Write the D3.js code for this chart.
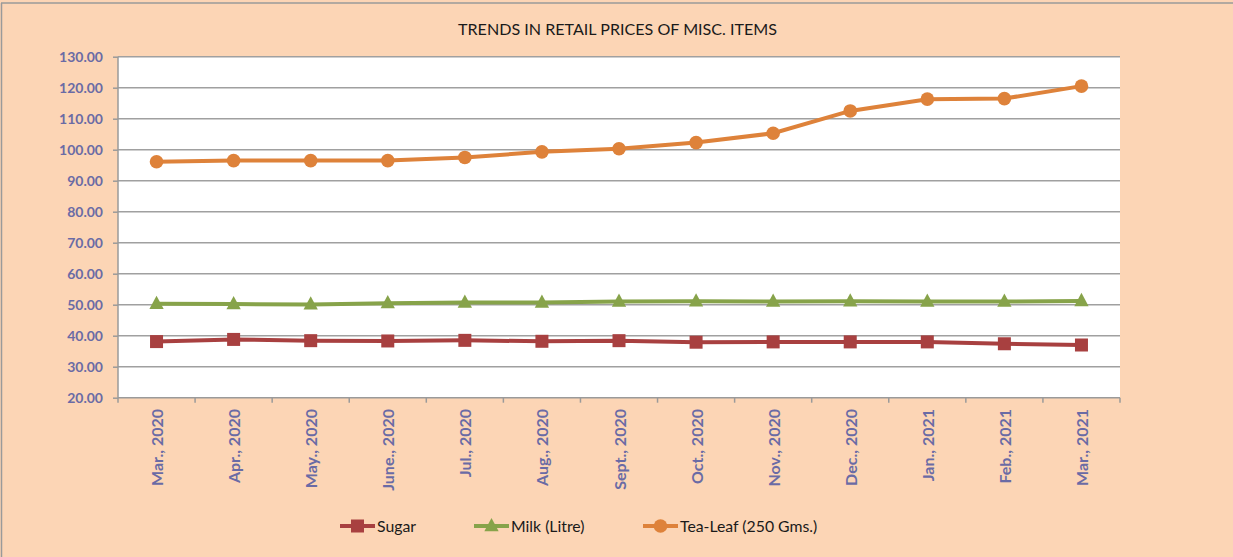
<!DOCTYPE html>
<html>
<head>
<meta charset="utf-8">
<script src="https://cdn.jsdelivr.net/npm/d3@7"></script>
<style>
  html, body { margin: 0; padding: 0; background: #fcd5b5; }
  svg { display: block; }
  text { font-family: Lato, "Open Sans", sans-serif; }
</style>
</head>
<body>
<svg id="chart" width="1233" height="557"></svg>
<script>
const categories = ["Mar., 2020", "Apr., 2020", "May., 2020", "June., 2020", "Jul., 2020", "Aug., 2020", "Sept., 2020", "Oct., 2020", "Nov., 2020", "Dec., 2020", "Jan., 2021", "Feb., 2021", "Mar., 2021"];
const sugar = [38.1, 38.8, 38.4, 38.3, 38.5, 38.2, 38.4, 37.9, 38.0, 38.0, 38.0, 37.4, 37.0];
const milk = [50.3, 50.2, 50.1, 50.5, 50.7, 50.7, 51.0, 51.1, 51.0, 51.1, 51.0, 51.0, 51.2];
const teaLeaf = [96.1, 96.5, 96.5, 96.5, 97.5, 99.3, 100.3, 102.3, 105.3, 112.5, 116.3, 116.5, 120.5];
const yTicks = [20, 30, 40, 50, 60, 70, 80, 90, 100, 110, 120, 130];
const title = "TRENDS IN RETAIL PRICES OF MISC. ITEMS";

const series = [
  { name: "Sugar", values: sugar, color: "#a84040", marker: "square" },
  { name: "Milk (Litre)", values: milk, color: "#87a34a", marker: "triangle" },
  { name: "Tea-Leaf (250 Gms.)", values: teaLeaf, color: "#de823a", marker: "circle" }
];

const svg = d3.select("#chart");
const W = 1233, H = 557;
const m = { left: 118, right: 1120, top: 56.7, bottom: 397.7 };

// background & border
svg.append("rect").attr("x", 0).attr("y", 0).attr("width", W).attr("height", H).attr("fill", "#fcd5b5");
svg.append("line").attr("x1", 1.5).attr("x2", 1.5).attr("y1", 3).attr("y2", H).attr("stroke", "#9a9a9a").attr("stroke-width", 1.5);
svg.append("line").attr("x1", 1).attr("x2", W).attr("y1", 3).attr("y2", 3).attr("stroke", "#9a9a9a").attr("stroke-width", 1.5);

const x = d3.scaleBand().domain(categories).range([m.left, m.right]).padding(0);
const y = d3.scaleLinear().domain([20, 130]).range([m.bottom, m.top]);

// plot area
svg.append("rect").attr("x", m.left).attr("y", m.top).attr("width", m.right - m.left).attr("height", m.bottom - m.top).attr("fill", "#ffffff");

// gridlines
svg.append("g").selectAll("line").data(yTicks.filter(d => d > 20)).join("line")
  .attr("x1", m.left).attr("x2", m.right)
  .attr("y1", d => y(d)).attr("y2", d => y(d))
  .attr("stroke", "#a0a0a0").attr("stroke-width", 1.5);

// y axis
const yAxis = svg.append("g").attr("transform", `translate(${m.left},0)`)
  .call(d3.axisLeft(y).tickValues(yTicks).tickFormat(d3.format(".2f")).tickSize(5).tickPadding(10));
yAxis.select(".domain").attr("stroke", "#9a9a9a").attr("stroke-width", 1.5).attr("d", `M0,${m.top}V${m.bottom}`);
yAxis.selectAll(".tick line").attr("stroke", "#9a9a9a").attr("stroke-width", 1.5);
yAxis.selectAll(".tick text").attr("fill", "#6a6ba5").attr("font-size", 14).attr("font-weight", "bold")
  .style("font-family", "Lato, sans-serif");

// x axis
const xAxis = svg.append("g").attr("transform", `translate(0,${m.bottom})`);
xAxis.append("line").attr("x1", m.left).attr("x2", m.right).attr("y1", 0).attr("y2", 0)
  .attr("stroke", "#9a9a9a").attr("stroke-width", 1.5);
const boundaries = categories.map(c => x(c)).concat([m.right]);
xAxis.selectAll("line.tk").data(boundaries).join("line").attr("class", "tk")
  .attr("x1", d => d).attr("x2", d => d).attr("y1", 0).attr("y2", 5)
  .attr("stroke", "#9a9a9a").attr("stroke-width", 1.5);
xAxis.selectAll("text").data(categories).join("text")
  .attr("transform", d => `translate(${x(d) + x.bandwidth() / 2 + 6.5},11.3) rotate(-90)`)
  .attr("text-anchor", "end")
  .attr("fill", "#6a6ba5").attr("font-size", 16).attr("font-weight", "bold")
  .text(d => d);

// lines + markers
const line = d3.line().x((d, i) => x(categories[i]) + x.bandwidth() / 2).y(d => y(d));
function drawMarker(g, type, cx, cy, color, s) {
  if (type === "square") {
    g.append("rect").attr("x", cx - s).attr("y", cy - s).attr("width", 2 * s).attr("height", 2 * s).attr("fill", color);
  } else if (type === "triangle") {
    g.append("path").attr("d", `M${cx},${cy - s * 1.25}L${cx + s * 1.1},${cy + s * 0.8}L${cx - s * 1.1},${cy + s * 0.8}Z`).attr("fill", color);
  } else {
    g.append("circle").attr("cx", cx).attr("cy", cy).attr("r", s * 1.05).attr("fill", color);
  }
}
series.forEach(s => {
  const g = svg.append("g");
  g.append("path").attr("d", line(s.values)).attr("fill", "none").attr("stroke", s.color).attr("stroke-width", 4);
  s.values.forEach((v, i) => drawMarker(g, s.marker, x(categories[i]) + x.bandwidth() / 2, y(v), s.color, 6.5));
});

// title
svg.append("text").attr("x", 617.5).attr("y", 35).attr("text-anchor", "middle")
  .attr("font-size", 15).attr("fill", "#1a1a1a")
  .attr("textLength", 319).attr("lengthAdjust", "spacingAndGlyphs").text(title);

// legend
const legendX = [340, 474, 643];
series.forEach((s, i) => {
  const g = svg.append("g");
  const lx = legendX[i], ly = 526;
  g.append("line").attr("x1", lx).attr("x2", lx + 35).attr("y1", ly).attr("y2", ly).attr("stroke", s.color).attr("stroke-width", 4);
  drawMarker(g, s.marker, lx + 17.5, ly, s.color, 6.5);
  g.append("text").attr("x", lx + 37).attr("y", ly + 6).attr("font-size", 15.8).attr("fill", "#1a1a1a").text(s.name);
});
</script>
</body>
</html>
